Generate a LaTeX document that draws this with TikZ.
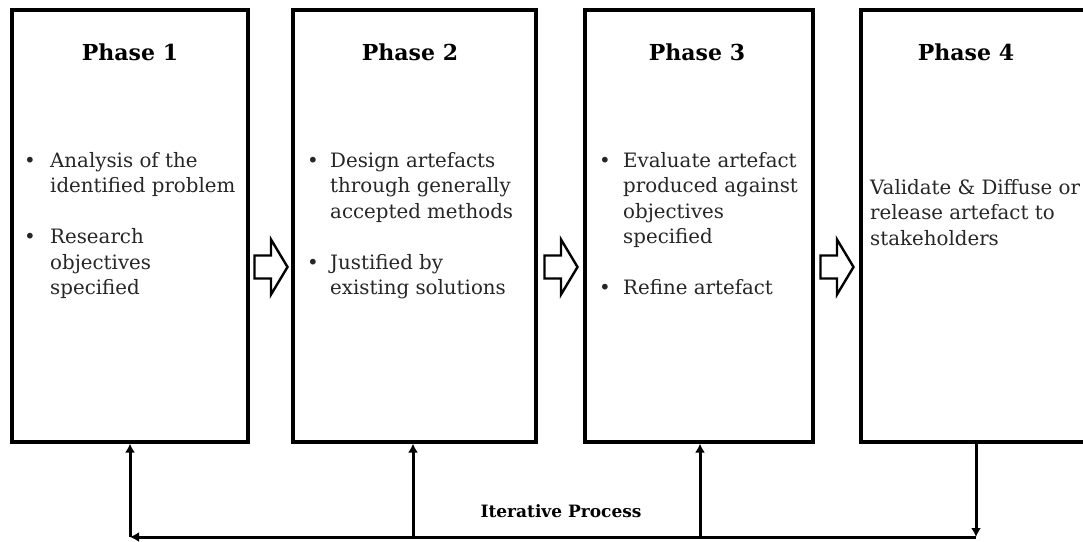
\documentclass[tikz,border=0pt]{standalone}
\usepackage{fontspec}
\setmainfont{DejaVu Serif}
\usetikzlibrary{arrows.meta}
\newcommand{\bodyfont}{\fontsize{19.8}{25.5}\selectfont}
\newcommand{\headfont}{\fontsize{22}{26}\selectfont\bfseries}
\tikzset{
  phasebox/.style={draw=black, line width=3.2pt, inner sep=0pt},
  heading/.style={anchor=base, inner sep=0pt, font=\headfont},
  bodytext/.style={anchor=base west, inner sep=0pt, font=\bodyfont, text=black!85},
  loopline/.style={draw=black, line width=3pt},
  looparrow/.style={loopline, -{Latex[length=9pt,width=10pt]}},
  blockarrow/.pic={
    \draw[black, line width=2.4pt, line join=miter, fill=white]
      (-16.5,-11.5) -- (0,-11.5) -- (0,-27.5) -- (16.5,0) -- (0,27.5)
      -- (0,11.5) -- (-16.5,11.5) -- cycle;
  }
}
\begin{document}
\begin{tikzpicture}[x=1pt, y=-1pt]
  % canvas
  \path[fill=white] (0,0) rectangle (1083,541);
  \useasboundingbox (0,0) rectangle (1083,541);

  % phase boxes
  \node[phasebox, minimum width=236pt, minimum height=432pt] (p1) at (130,226) {};
  \node[phasebox, minimum width=243pt, minimum height=432pt] (p2) at (414.5,226) {};
  \node[phasebox, minimum width=228pt, minimum height=432pt] (p3) at (699,226) {};
  \node[phasebox, minimum width=229pt, minimum height=432pt] (p4) at (975.5,226) {};

  % headings
  \node[heading] (h1) at (130,60) {Phase 1};
  \node[heading] (h2) at (410,60) {Phase 2};
  \node[heading] (h3) at (697,60) {Phase 3};
  \node[heading] (h4) at (966,60) {Phase 4};

  % phase contents
  \node[bodytext] (t1) at (24,167) {\begin{tabular}[t]{@{}p{26pt}@{}l@{}}
    \textbullet & Analysis of the\\
                & identified problem\\[25.5pt]
    \textbullet & Research\\
                & objectives\\
                & specified
  \end{tabular}};
  \node[bodytext] (t2) at (307,167) {\begin{tabular}[t]{@{}p{23pt}@{}l@{}}
    \textbullet & Design artefacts\\
                & through generally\\
                & accepted methods\\[25.5pt]
    \textbullet & Justified by\\
                & existing solutions
  \end{tabular}};
  \node[bodytext] (t3) at (599,167) {\begin{tabular}[t]{@{}p{24pt}@{}l@{}}
    \textbullet & Evaluate artefact\\
                & produced against\\
                & objectives\\
                & specified\\[25.5pt]
    \textbullet & Refine artefact
  \end{tabular}};
  \node[bodytext] (t4) at (870,194) {\begin{tabular}[t]{@{}l@{}}
    Validate \& Diffuse or\\
    release artefact to\\
    stakeholders
  \end{tabular}};

  % flow between phases
  \pic at (271,267) {blockarrow};
  \pic at (561,267) {blockarrow};
  \pic at (837,267) {blockarrow};

  % iterative feedback loop
  \coordinate (loopR) at (976,537);
  \coordinate (loopL) at (130,537);
  \coordinate (tap2) at (413,537);
  \coordinate (tap3) at (700,537);
  \draw[looparrow] (p4.south -| loopR) -- (loopR);
  \draw[looparrow] (loopR) -- (loopL);
  \draw[looparrow] (loopL) -- (p1.south -| loopL);
  \draw[looparrow] (tap2) -- (p2.south -| tap2);
  \draw[looparrow] (tap3) -- (p3.south -| tap3);
  \node[anchor=base, inner sep=0pt, font=\fontsize{17}{20}\selectfont\bfseries] (iter) at (561,517) {Iterative Process};
\end{tikzpicture}
\end{document}
